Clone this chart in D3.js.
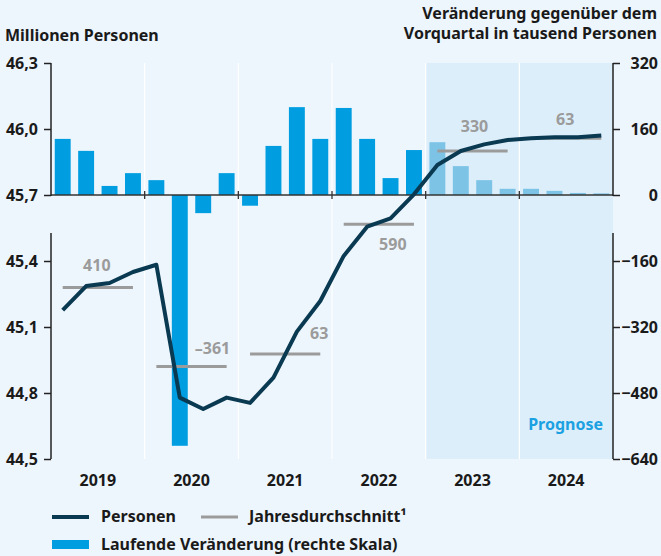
<html>
<head>
<meta charset="utf-8">
<style>
  body { margin: 0; background: #eef6fd; }
  svg { display: block; font-family: "Noto Sans", sans-serif; font-weight: 700; }
</style>
</head>
<body>
<svg id="chart" width="661" height="556"></svg>
<script src="https://d3js.org/d3.v7.min.js"></script>
<script>
// data
var years = ["2019", "2020", "2021", "2022", "2023", "2024"];
var forecastYears = ["2023", "2024"];
var quarters = years.flatMap(function(y) { return ["Q1", "Q2", "Q3", "Q4"].map(function(q) { return y + q; }); });

// Erwerbstaetige, Millionen Personen (left scale)
var personen = [45.177, 45.286, 45.300, 45.350, 45.383, 44.779, 44.727, 44.779,
                44.755, 44.870, 45.079, 45.218, 45.423, 45.556, 45.594, 45.703,
                45.836, 45.900, 45.930, 45.950, 45.958, 45.962, 45.962, 45.970];

// Veraenderung gegenueber Vorquartal, tausend Personen (right scale)
var veraenderung = [136, 107, 22, 53, 36, -608, -44, 53,
                    -26, 119, 213, 136, 211, 136, 41, 109,
                    128, 70, 36, 15, 15, 10, 5, 4];

// Jahresdurchschnitt (left scale) and its label
var jahresMittel = [45.280, 44.920, 44.977, 45.567, 45.900, 45.958];
var jahresLabel = ["410", "\u2013361", "63", "590", "330", "63"];

var leftTicks = [44.5, 44.8, 45.1, 45.4, 45.7, 46.0, 46.3];
var rightTicks = [-640, -480, -320, -160, 0, 160, 320];

// label placement relative to the average line (layout only)
var labelDx = [-1, 21, 34, 14, 2, -1];
var labelDy = [-16, -13, -15, 26, -19, -13];

var svg = d3.select("#chart");
var pLeft = 51, pRight = 613, pTop = 63, pBottom = 459;

var xYear = d3.scaleBand().domain(years).range([pLeft, pRight]);
var xQ = d3.scaleBand().domain(quarters).range([pLeft, pRight]).paddingInner(0.32).paddingOuter(0.16);
var yL = d3.scaleLinear().domain([44.5, 46.3]).range([pBottom, pTop]);
var yR = d3.scaleLinear().domain([-640, 320]).range([pBottom, pTop]);

var navy = "#0a3a52", barBlue = "#009ee0", barLight = "#7dc3e6", grey = "#9b9b9b";

// background & prognose shading
svg.append("rect").attr("width", 661).attr("height", 556).attr("fill", "#eef6fd");
svg.append("rect")
    .attr("x", xYear(forecastYears[0]))
    .attr("y", pTop)
    .attr("width", pRight - xYear(forecastYears[0]))
    .attr("height", pBottom - pTop)
    .attr("fill", "#dceefa");

// white year separators
svg.selectAll(".sep").data(years.slice(1)).enter().append("line")
    .attr("x1", function(d) { return xYear(d); })
    .attr("x2", function(d) { return xYear(d); })
    .attr("y1", pTop).attr("y2", pBottom)
    .attr("stroke", "#fff").attr("stroke-width", 1.2);

// bars
svg.selectAll(".bar").data(veraenderung).enter().append("rect")
    .attr("x", function(d, i) { return xQ(quarters[i]); })
    .attr("width", xQ.bandwidth())
    .attr("y", function(d) { return yR(Math.max(0, d)); })
    .attr("height", function(d) { return Math.abs(yR(d) - yR(0)); })
    .attr("fill", function(d, i) { return forecastYears.indexOf(quarters[i].slice(0, 4)) >= 0 ? barLight : barBlue; });

// zero line with year ticks
svg.append("line")
    .attr("x1", pLeft).attr("x2", pRight)
    .attr("y1", yR(0)).attr("y2", yR(0))
    .attr("stroke", "#333").attr("stroke-width", 1.5);
svg.selectAll(".ztick").data(years.slice(1)).enter().append("line")
    .attr("x1", function(d) { return xYear(d); })
    .attr("x2", function(d) { return xYear(d); })
    .attr("y1", yR(0) - 4).attr("y2", yR(0) + 4)
    .attr("stroke", "#333").attr("stroke-width", 1.3);

// yearly averages
svg.selectAll(".avg").data(jahresMittel).enter().append("line")
    .attr("x1", function(d, i) { return xQ(quarters[i * 4]) + xQ.bandwidth() / 2; })
    .attr("x2", function(d, i) { return xQ(quarters[i * 4 + 3]) + xQ.bandwidth() / 2; })
    .attr("y1", function(d) { return yL(d); })
    .attr("y2", function(d) { return yL(d); })
    .attr("stroke", grey).attr("stroke-width", 3);

svg.selectAll(".avgLabel").data(jahresLabel).enter().append("text")
    .attr("x", function(d, i) { return xYear(years[i]) + xYear.bandwidth() / 2 + labelDx[i]; })
    .attr("y", function(d, i) { return yL(jahresMittel[i]) + labelDy[i]; })
    .attr("text-anchor", "middle")
    .attr("fill", grey)
    .attr("font-size", 16)
    .text(function(d) { return d; });

// Personen line
var line = d3.line()
    .x(function(d, i) { return xQ(quarters[i]) + xQ.bandwidth() / 2; })
    .y(function(d) { return yL(d); });
svg.append("path")
    .attr("d", line(personen))
    .attr("fill", "none")
    .attr("stroke", navy)
    .attr("stroke-width", 4)
    .attr("stroke-linejoin", "round");

// axes
var fmtL = function(d) { return d3.format(".1f")(d).replace(".", ","); };
var gL = svg.append("g").attr("transform", "translate(" + pLeft + ",0)")
    .call(d3.axisLeft(yL).tickValues(leftTicks).tickFormat(fmtL).tickSize(7).tickPadding(6));
var gR = svg.append("g").attr("transform", "translate(" + pRight + ",0)")
    .call(d3.axisRight(yR).tickValues(rightTicks).tickSize(7));

[gL, gR].forEach(function(g) {
    g.select(".domain").remove();
    g.selectAll("line").attr("stroke", "#222").attr("stroke-width", 1.5);
    g.selectAll("text").attr("fill", "#1a1a1a").attr("font-size", 16)
        .attr("font-family", "Noto Sans, sans-serif").attr("font-weight", 700);
});
gR.selectAll("text").attr("text-anchor", "end").attr("x", 45);

// axis lines with a break below the zero line
[pLeft, pRight].forEach(function(x) {
    [[pTop, yR(0) + 1], [yR(0) + 38, pBottom]].forEach(function(s) {
        svg.append("line").attr("x1", x).attr("x2", x).attr("y1", s[0]).attr("y2", s[1])
            .attr("stroke", "#222").attr("stroke-width", 1.5);
    });
});

// year labels
svg.selectAll(".year").data(years).enter().append("text")
    .attr("x", function(d) { return xYear(d) + xYear.bandwidth() / 2; })
    .attr("y", 486)
    .attr("text-anchor", "middle")
    .attr("fill", "#1a1a1a")
    .attr("font-size", 16)
    .text(function(d) { return d; });

svg.append("text")
    .attr("x", 603).attr("y", 430)
    .attr("text-anchor", "end")
    .attr("fill", "#1ba1e2")
    .attr("font-size", 16)
    .text("Prognose");

// titles
svg.append("text").attr("x", 5).attr("y", 41).attr("font-size", 16).attr("fill", "#1a1a1a")
    .text("Millionen Personen");
svg.append("text").attr("x", 657).attr("y", 19).attr("font-size", 16).attr("fill", "#1a1a1a")
    .attr("text-anchor", "end").text("Veränderung gegenüber dem");
svg.append("text").attr("x", 657).attr("y", 39).attr("font-size", 16).attr("fill", "#1a1a1a")
    .attr("text-anchor", "end").text("Vorquartal in tausend Personen");

// legend
var lg = svg.append("g").attr("font-size", 16).attr("fill", "#1a1a1a");
lg.append("line").attr("x1", 52).attr("x2", 89).attr("y1", 517).attr("y2", 517)
    .attr("stroke", navy).attr("stroke-width", 4);
lg.append("text").attr("x", 101).attr("y", 522).text("Personen");
lg.append("line").attr("x1", 201).attr("x2", 238).attr("y1", 517).attr("y2", 517)
    .attr("stroke", grey).attr("stroke-width", 3);
lg.append("text").attr("x", 249).attr("y", 522).text("Jahresdurchschnitt\u00b9");
lg.append("rect").attr("x", 52).attr("y", 540).attr("width", 37).attr("height", 9)
    .attr("fill", barBlue);
lg.append("text").attr("x", 101).attr("y", 550).text("Laufende Veränderung (rechte Skala)");
</script>
</body>
</html>
